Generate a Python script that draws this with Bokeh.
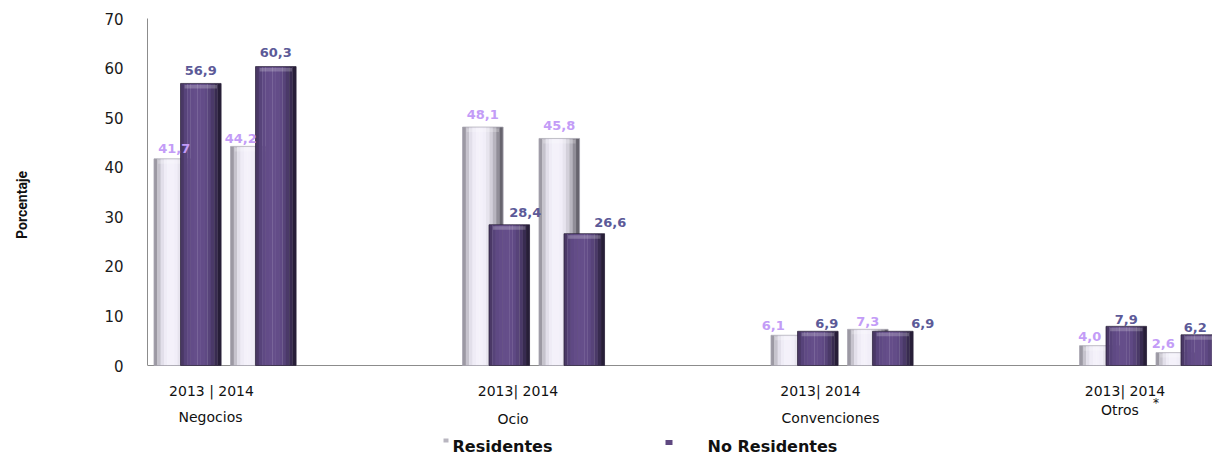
from bokeh.plotting import figure
from bokeh.layouts import row
from bokeh.models import Range1d, FixedTicker, ColumnDataSource, Span
from bokeh.core.properties import value
from bokeh.embed import file_html
from bokeh.resources import INLINE
import math

# ---------------- data ----------------
categories = ["Negocios", "Ocio", "Convenciones", "Otros"]
year_labels = ["2013 | 2014", "2013| 2014", "2013| 2014", "2013| 2014"]
residentes_2013 = [41.7, 48.1, 6.1, 4.0]
residentes_2014 = [44.2, 45.8, 7.3, 2.6]
no_residentes_2013 = [56.9, 28.4, 6.9, 7.9]
no_residentes_2014 = [60.3, 26.6, 6.9, 6.2]
y_ticks = [0, 10, 20, 30, 40, 50, 60, 70]
series_names = ["Residentes", "No Residentes"]
y_title = "Porcentaje"

# ---------------- layout constants ----------------
W, H = 1212, 459
SIDE_W = 60                 # narrow strip holding the y title
FRAME_L, BORDER_T = 147, 18
AXIS_Y0_PX = 365            # pixel row of value 0
X0_PX = 148                 # pixel column of x = 0
GROUP_PX = 308.5
PX_PER_Y = (AXIS_Y0_PX - BORDER_T) / 70.0


def xd(px):
    return px / GROUP_PX


def yd(px):
    return px / PX_PER_Y


def y_win(wy):
    return (AXIS_Y0_PX - wy) / PX_PER_Y


def x_win(wx):
    return (wx - X0_PX) / GROUP_PX


BAR_W_PX = 40.5
OFFS = {"r13": 25.8, "n13": 52.3, "r14": 102.3, "n14": 127.3}

res_grad = ["#9C99A3", "#C6C3CD", "#E2DFEA", "#EFECF6", "#F4F1FA", "#F4F1FA",
            "#F1EEF8", "#E7E4EE", "#D3D0DA", "#B8B5BF", "#918E98", "#67646E"]
nores_grad = ["#4A3866", "#57437A", "#5F4984", "#634C88", "#654E8A", "#654E8A",
              "#634C88", "#5F4984", "#574379", "#4A3968", "#382B50", "#271E38"]

# ---------------- side strip with the y title ----------------
side = figure(width=SIDE_W, height=H, output_backend="svg", toolbar_location=None,
              x_axis_location=None, y_axis_location=None,
              x_range=Range1d(0, SIDE_W), y_range=Range1d(H, 0),
              min_border_left=0, min_border_right=0, min_border_top=0, min_border_bottom=0)
side.grid.visible = False
side.outline_line_color = None
side.background_fill_color = "white"
side.border_fill_color = "white"
side.text(x=[21], y=[194], text=[y_title], angle=math.pi / 2, text_align="center",
          text_baseline="middle", text_font=value("Roboto"), text_font_style="bold",
          text_font_size="14px", text_color="#111111")

# ---------------- main chart ----------------
p = figure(width=W - SIDE_W, height=H, output_backend="svg", toolbar_location=None,
           x_axis_location=None,
           x_range=Range1d(x_win(FRAME_L), x_win(W)),
           y_range=Range1d(y_win(H), 70),
           min_border_left=FRAME_L - SIDE_W, min_border_right=0,
           min_border_top=BORDER_T, min_border_bottom=0)
p.grid.visible = False
p.outline_line_color = None
p.background_fill_color = "white"
p.border_fill_color = "white"

p.yaxis.ticker = FixedTicker(ticks=y_ticks)
p.yaxis.bounds = (0, 70)
p.yaxis.major_tick_out = 0
p.yaxis.major_tick_in = 0
p.yaxis.minor_tick_out = 0
p.yaxis.minor_tick_in = 0
p.yaxis.axis_line_color = "#8C8C8C"
p.yaxis.major_label_standoff = 24
p.yaxis.major_label_text_font = "DejaVu Sans"
p.yaxis.major_label_text_font_size = "15px"
p.yaxis.major_label_text_color = "#1A1A1A"

p.add_layout(Span(location=0, dimension="width", line_color="#8C8C8C", line_width=1,
                  level="underlay"))


def draw_series(vals_a, key_a, vals_b, key_b, grad, outline):
    n = len(grad)
    xs, tops, ws, cols = [], [], [], []
    ox, ot, ow = [], [], []
    for vals, key in ((vals_a, key_a), (vals_b, key_b)):
        for g, v in enumerate(vals):
            c = g + xd(OFFS[key])
            bw = xd(BAR_W_PX)
            for i, col in enumerate(grad):
                xs.append(c + (-0.5 + (i + 0.5) / n) * bw)
                tops.append(v)
                ws.append(bw / n * 1.08)
                cols.append(col)
            ox.append(c)
            ot.append(v)
            ow.append(bw)
    src = ColumnDataSource(dict(x=xs, top=tops, w=ws, c=cols))
    p.vbar(x="x", top="top", width="w", bottom=0, fill_color="c", line_color=None, source=src)
    osrc = ColumnDataSource(dict(x=ox, top=ot, w=ow))
    p.vbar(x="x", top="top", width="w", bottom=0, fill_color=None,
           line_color=outline, line_width=1, line_alpha=0.7, source=osrc)
    csrc = ColumnDataSource(dict(x=ox, top=[t - yd(1.5) for t in ot],
                                 bottom=[t - yd(5) for t in ot], w=[w * 0.8 for w in ow]))
    p.vbar(x="x", top="top", bottom="bottom", width="w", fill_color="white",
           fill_alpha=0.22, line_color=None, source=csrc)


draw_series(residentes_2013, "r13", residentes_2014, "r14", res_grad, "#A8A5B0")
draw_series(no_residentes_2013, "n13", no_residentes_2014, "n14", nores_grad, "#2A2138")


def fmt(v):
    return f"{v:.1f}".replace(".", ",")


# label nudges (pixels)
res13_dx = [0, 0, -18, -10]
res14_dx = [-10, 0, 0, -13]
nores13_dx = [0, 16, 9, 0]
nores14_dx = [0, 26, 30, -6]
res13_dy = [10, 13, 10, 9]
res14_dy = [8, 13, 8, 9]
nores13_dy = [13, 12, 8, 7]
nores14_dy = [14, 11, 8, 7]


def label_src(pairs):
    xs, ys, ts = [], [], []
    for vals, key, dxs, dys in pairs:
        for g, v in enumerate(vals):
            xs.append(g + xd(OFFS[key] + dxs[g]))
            ys.append(v + yd(dys[g]))
            ts.append(fmt(v))
    return ColumnDataSource(dict(x=xs, y=ys, t=ts))


res_lab = label_src([(residentes_2013, "r13", res13_dx, res13_dy),
                     (residentes_2014, "r14", res14_dx, res14_dy)])
nores_lab = label_src([(no_residentes_2013, "n13", nores13_dx, nores13_dy),
                       (no_residentes_2014, "n14", nores14_dx, nores14_dy)])
for src, col in ((res_lab, "#C39CF7"), (nores_lab, "#5C5A98")):
    p.text(x="x", y="y", text="t", source=src, text_color=col,
           text_align="center", text_baseline="middle",
           text_font=value("DejaVu Sans"), text_font_style="bold",
           text_font_size="13px")

# category texts under the axis
year_dx = [63, 61, 55, 51]
name_dx = [62, 56, 65, 46]
name_wy = [416, 418, 417, 409]
ng = len(categories)
ysrc = ColumnDataSource(dict(x=[g + xd(year_dx[g]) for g in range(ng)],
                             y=[y_win(390)] * ng, t=year_labels))
nsrc = ColumnDataSource(dict(x=[g + xd(name_dx[g]) for g in range(ng)],
                             y=[y_win(name_wy[g]) for g in range(ng)], t=categories))
for src in (ysrc, nsrc):
    p.text(x="x", y="y", text="t", source=src, text_color="#111111",
           text_align="center", text_baseline="middle",
           text_font=value("DejaVu Sans"), text_font_size="14px")
p.text(x=[ng - 1 + xd(82)], y=[y_win(402)], text=["*"], text_align="center",
       text_baseline="middle", text_font=value("DejaVu Sans"),
       text_font_size="12px", text_color="#111111")

# legend
p.rect(x=[x_win(445.5)], y=[y_win(440)], width=[xd(5)], height=[yd(4)],
       fill_color="#B9B6C0", line_color=None)
p.rect(x=[x_win(668.5)], y=[y_win(442)], width=[xd(7)], height=[yd(5)],
       fill_color="#5F4880", line_color=None)
p.text(x=[x_win(452), x_win(707)], y=[y_win(446)] * 2, text=series_names,
       text_align="left", text_baseline="middle", text_font=value("DejaVu Sans"),
       text_font_style="bold", text_font_size="16px", text_color="#111111")

open("out.html", "w").write(file_html(row(side, p), INLINE))
